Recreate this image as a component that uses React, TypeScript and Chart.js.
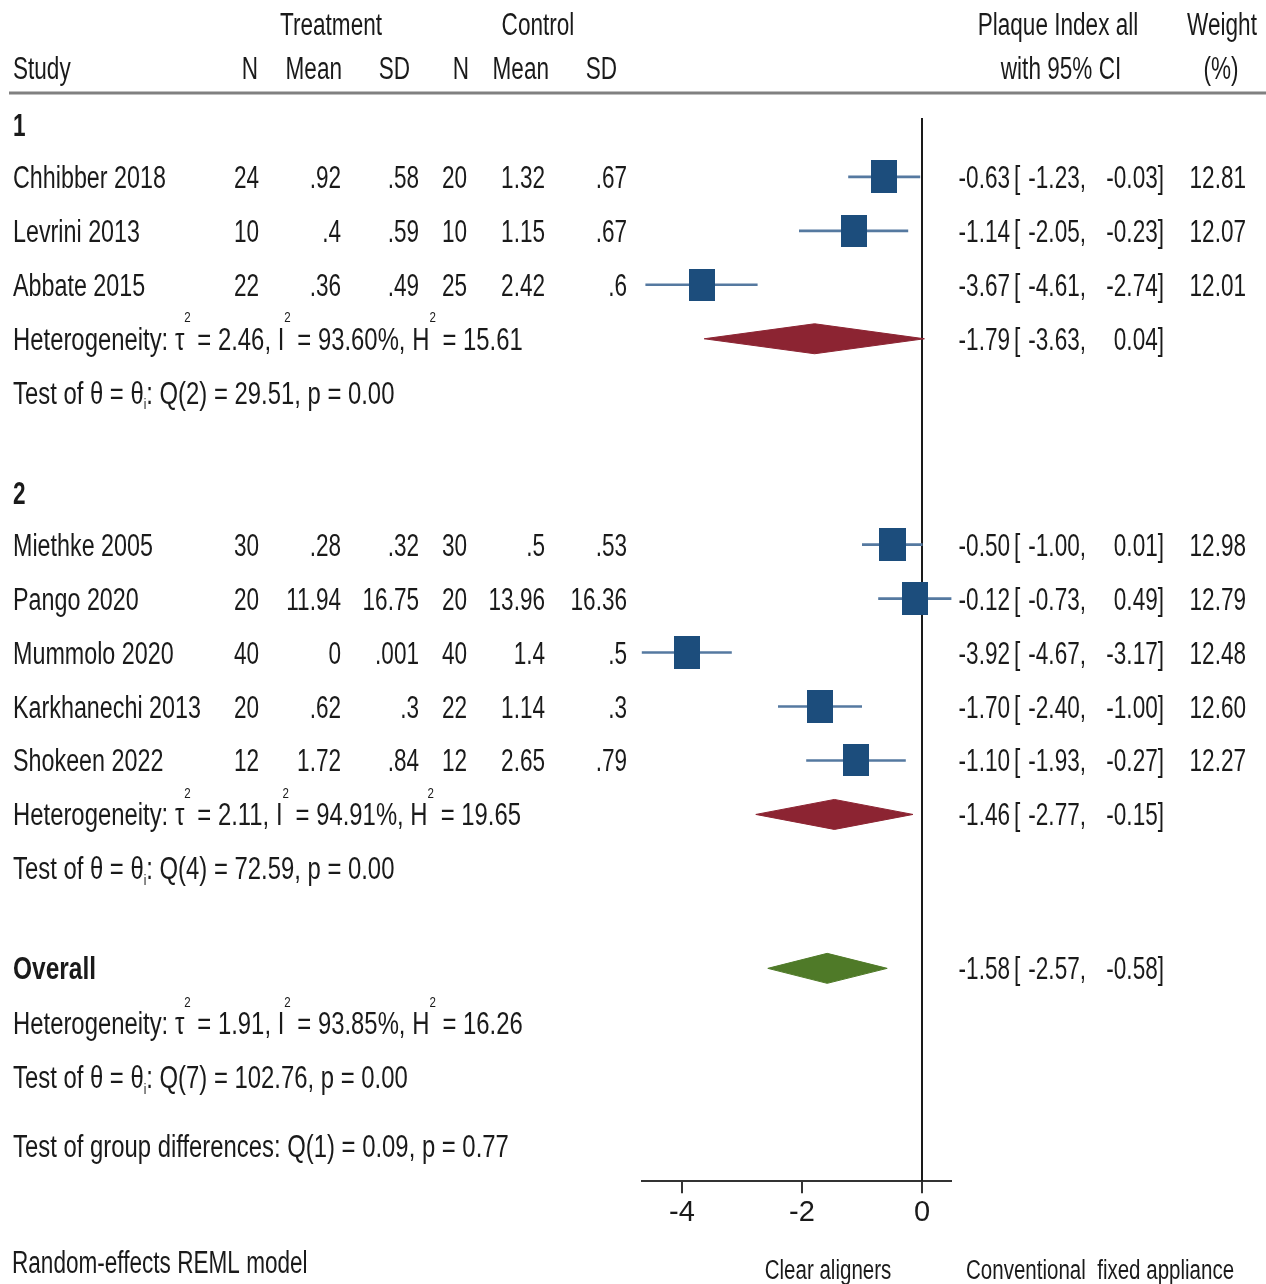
import { useEffect, useRef } from 'react';
import { Chart, registerables } from 'chart.js';

Chart.register(...registerables);

// ---------------- data ----------------
const studies = ['Chhibber 2018', 'Levrini 2013', 'Abbate 2015', 'Miethke 2005', 'Pango 2020', 'Mummolo 2020', 'Karkhanechi 2013', 'Shokeen 2022'];
const studyGroup = [1, 1, 1, 2, 2, 2, 2, 2];
const treatN = [24, 10, 22, 30, 20, 40, 20, 12];
const treatMean = [0.92, 0.4, 0.36, 0.28, 11.94, 0, 0.62, 1.72];
const treatSD = [0.58, 0.59, 0.49, 0.32, 16.75, 0.001, 0.3, 0.84];
const ctrlN = [20, 10, 25, 30, 20, 40, 22, 12];
const ctrlMean = [1.32, 1.15, 2.42, 0.5, 13.96, 1.4, 1.14, 2.65];
const ctrlSD = [0.67, 0.67, 0.6, 0.53, 16.36, 0.5, 0.3, 0.79];
const effect = [-0.63, -1.14, -3.67, -0.5, -0.12, -3.92, -1.7, -1.1];
const ciLow = [-1.23, -2.05, -4.61, -1.0, -0.73, -4.67, -2.4, -1.93];
const ciHigh = [-0.03, -0.23, -2.74, 0.01, 0.49, -3.17, -1.0, -0.27];
const weight = [12.81, 12.07, 12.01, 12.98, 12.79, 12.48, 12.6, 12.27];

const groups = [1, 2];
const groupEffect = [-1.79, -1.46];
const groupLow = [-3.63, -2.77];
const groupHigh = [0.04, -0.15];
const groupTau2 = [2.46, 2.11];
const groupI2 = [93.6, 94.91];
const groupH2 = [15.61, 19.65];
const groupQdf = [2, 4];
const groupQ = [29.51, 72.59];
const groupP = [0.0, 0.0];

const overallStats = [-1.58, -2.57, -0.58]; // effect, low, high
const overallHet = [1.91, 93.85, 16.26]; // tau2, I2, H2
const overallTest = [7, 102.76, 0.0]; // df, Q, p
const diffTest = [1, 0.09, 0.77]; // df, Q, p

const xTicks = [-4, -2, 0];
const nullValue = 0;

// ---------------- layout / style ----------------
const W = 1266;
const H = 1284;
const ZERO_PX = 922;
const PX_PER_UNIT = 60;
const AXIS_Y = 1182;
const ZERO_TOP = 118;
const DIAMOND_HALF = 15;
const FAMILY = '"Liberation Sans", Arial, Helvetica, sans-serif';
const SIZE = 31;
const SX = 0.728;
const SX_NAME = 0.752;
const SX_STAT = 0.77;
const TEXT = '#1a1a1a';
const BLUE = '#1c4d7c';
const CI_COLOR = '#5579a0';
const RED = '#8c2432';
const GREEN = '#4f7a28';

// row positions (layout)
const studyY: number[] = [];
const groupLabelY: number[] = [];
const groupHetY: number[] = [];
const groupTestY: number[] = [];
let yCursor = 125;
groups.forEach((g) => {
  groupLabelY.push(yCursor);
  yCursor += 52;
  studies.forEach((_, i) => {
    if (studyGroup[i] === g) {
      studyY[i] = yCursor;
      yCursor += 54;
    }
  });
  groupHetY.push(yCursor);
  groupTestY.push(yCursor + 54);
  yCursor += 154;
});
const overallY = yCursor;
const overallHetY = yCursor + 55;
const overallTestY = yCursor + 109;
const diffY = yCursor + 178;

const xMin = Math.min(...ciLow, ...groupLow, overallStats[1]);
const xMax = Math.max(...ciHigh, ...groupHigh, overallStats[2]);
const plotLeft = ZERO_PX + xMin * PX_PER_UNIT;
const plotRight = ZERO_PX + xMax * PX_PER_UNIT;

type Run = { t: string; sup?: boolean; sub?: boolean; bold?: boolean };

function drawRuns(
  ctx: CanvasRenderingContext2D,
  runs: Run[],
  x: number,
  baseline: number,
  align: 'left' | 'right' | 'center',
  size = SIZE,
  sx = SX
) {
  const fontFor = (r: Run) =>
    `${r.bold ? 'bold ' : ''}${r.sup || r.sub ? Math.round(size * 0.47) : size}px ${FAMILY}`;
  const widths = runs.map((r) => {
    ctx.font = fontFor(r);
    return ctx.measureText(r.t).width;
  });
  const total = widths.reduce((a, b) => a + b, 0) * sx;
  const start = align === 'left' ? x : align === 'right' ? x - total : x - total / 2;
  ctx.save();
  ctx.translate(start, baseline);
  ctx.scale(sx, 1);
  ctx.textAlign = 'left';
  ctx.textBaseline = 'alphabetic';
  ctx.fillStyle = TEXT;
  let cx = 0;
  runs.forEach((r, i) => {
    ctx.font = fontFor(r);
    const dy = r.sup ? -size * 0.88 : r.sub ? size * 0.17 : 0;
    ctx.fillText(r.t, cx, dy);
    cx += widths[i];
  });
  ctx.restore();
}

const fmtRaw = (v: number) => String(v).replace(/^0\./, '.').replace(/^-0\./, '-.');
const f2 = (v: number) => v.toFixed(2);

const hetRuns = (tau2: number, i2: number, h2: number): Run[] => [
  { t: 'Heterogeneity: τ' },
  { t: '2', sup: true },
  { t: ` = ${f2(tau2)}, I` },
  { t: '2', sup: true },
  { t: ` = ${f2(i2)}%, H` },
  { t: '2', sup: true },
  { t: ` = ${f2(h2)}` },
];
const testRuns = (df: number, q: number, p: number): Run[] => [
  { t: 'Test of θ = θ' },
  { t: 'i', sub: true },
  { t: `: Q(${df}) = ${f2(q)}, p = ${f2(p)}` },
];

function makeBox(w: number) {
  const c = document.createElement('canvas');
  const bw = Math.round(7.4 * Math.sqrt(w));
  const bh = Math.round(9.2 * Math.sqrt(w));
  c.width = bw;
  c.height = bh;
  const g = c.getContext('2d')!;
  g.fillStyle = BLUE;
  g.fillRect(0, 0, bw, bh);
  return c;
}

const diamond = (e: number, lo: number, hi: number, y: number) => [
  { x: lo, y },
  { x: e, y: y - DIAMOND_HALF },
  { x: hi, y },
  { x: e, y: y + DIAMOND_HALF },
  { x: lo, y },
];

const textPlugin = {
  id: 'forestText',
  afterDraw(chart: any) {
    const ctx: CanvasRenderingContext2D = chart.ctx;
    const ys = chart.scales.y;
    const bl = (v: number) => ys.getPixelForValue(v) + 11;

    // header rule
    ctx.save();
    ctx.strokeStyle = '#808080';
    ctx.lineWidth = 3;
    ctx.beginPath();
    ctx.moveTo(9, ys.getPixelForValue(93));
    ctx.lineTo(W, ys.getPixelForValue(93));
    ctx.stroke();
    ctx.restore();

    // headers
    const h1 = 24;
    const h2 = 68;
    drawRuns(ctx, [{ t: 'Treatment' }], 331, bl(h1), 'center');
    drawRuns(ctx, [{ t: 'Control' }], 538, bl(h1), 'center');
    drawRuns(ctx, [{ t: 'Plaque Index all' }], 1058, bl(h1), 'center');
    drawRuns(ctx, [{ t: 'Weight' }], 1222, bl(h1), 'center');
    drawRuns(ctx, [{ t: 'Study' }], 13, bl(h2), 'left');
    drawRuns(ctx, [{ t: 'N' }], 258, bl(h2), 'right');
    drawRuns(ctx, [{ t: 'Mean' }], 342, bl(h2), 'right');
    drawRuns(ctx, [{ t: 'SD' }], 410, bl(h2), 'right');
    drawRuns(ctx, [{ t: 'N' }], 469, bl(h2), 'right');
    drawRuns(ctx, [{ t: 'Mean' }], 549, bl(h2), 'right');
    drawRuns(ctx, [{ t: 'SD' }], 617, bl(h2), 'right');
    drawRuns(ctx, [{ t: 'with 95% CI' }], 1061, bl(h2), 'center');
    drawRuns(ctx, [{ t: '(%)' }], 1221, bl(h2), 'center');

    const esText = (e: number, lo: number, hi: number, y: number) => {
      drawRuns(ctx, [{ t: f2(e) }], 1010, bl(y), 'right');
      drawRuns(ctx, [{ t: '[' }], 1014, bl(y), 'left');
      drawRuns(ctx, [{ t: f2(lo) + ',' }], 1086, bl(y), 'right');
      drawRuns(ctx, [{ t: f2(hi) + ']' }], 1164, bl(y), 'right');
    };

    groups.forEach((g, gi) => {
      drawRuns(ctx, [{ t: String(g), bold: true }], 13, bl(groupLabelY[gi]), 'left');
      studies.forEach((s, i) => {
        if (studyGroup[i] !== g) return;
        const y = studyY[i];
        drawRuns(ctx, [{ t: s }], 13, bl(y), 'left', SIZE, SX_NAME);
        drawRuns(ctx, [{ t: String(treatN[i]) }], 259, bl(y), 'right');
        drawRuns(ctx, [{ t: fmtRaw(treatMean[i]) }], 341, bl(y), 'right');
        drawRuns(ctx, [{ t: fmtRaw(treatSD[i]) }], 419, bl(y), 'right');
        drawRuns(ctx, [{ t: String(ctrlN[i]) }], 467, bl(y), 'right');
        drawRuns(ctx, [{ t: fmtRaw(ctrlMean[i]) }], 545, bl(y), 'right');
        drawRuns(ctx, [{ t: fmtRaw(ctrlSD[i]) }], 627, bl(y), 'right');
        esText(effect[i], ciLow[i], ciHigh[i], y);
        drawRuns(ctx, [{ t: f2(weight[i]) }], 1246, bl(y), 'right');
      });
      drawRuns(ctx, hetRuns(groupTau2[gi], groupI2[gi], groupH2[gi]), 13, bl(groupHetY[gi]), 'left', SIZE, SX_STAT);
      esText(groupEffect[gi], groupLow[gi], groupHigh[gi], groupHetY[gi]);
      drawRuns(ctx, testRuns(groupQdf[gi], groupQ[gi], groupP[gi]), 13, bl(groupTestY[gi]), 'left', SIZE, SX_STAT);
    });

    drawRuns(ctx, [{ t: 'Overall', bold: true }], 13, bl(overallY), 'left', SIZE, 0.79);
    esText(overallStats[0], overallStats[1], overallStats[2], overallY);
    drawRuns(ctx, hetRuns(overallHet[0], overallHet[1], overallHet[2]), 13, bl(overallHetY), 'left', SIZE, SX_STAT);
    drawRuns(ctx, testRuns(overallTest[0], overallTest[1], overallTest[2]), 13, bl(overallTestY), 'left', SIZE, SX_STAT);
    drawRuns(
      ctx,
      [{ t: `Test of group differences: Q(${diffTest[0]}) = ${f2(diffTest[1])}, p = ${f2(diffTest[2])}` }],
      13,
      bl(diffY),
      'left',
      SIZE,
      SX_STAT
    );

    // footer
    drawRuns(ctx, [{ t: 'Random-effects REML model' }], 12, 1273, 'left');
    drawRuns(ctx, [{ t: 'Clear aligners' }], 828, 1279, 'center', 27, 0.76);
    drawRuns(ctx, [{ t: 'Conventional  fixed appliance' }], 966, 1279, 'left', 27, 0.76);
  },
};

export default function App() {
  const ref = useRef<HTMLCanvasElement>(null);
  useEffect(() => {
    document.body.style.margin = '0';
    const canvas = ref.current!;
    const datasets: any[] = [];
    datasets.push({
      type: 'scatter',
      label: 'Studies',
      data: studies.map((_, i) => ({ x: effect[i], y: studyY[i] })),
      pointStyle: weight.map(makeBox),
      pointRadius: 16,
      pointHoverRadius: 16,
      backgroundColor: BLUE,
      borderWidth: 0,
      order: 0,
      clip: false,
    });
    studies.forEach((s, i) => {
      datasets.push({
        type: 'line',
        label: s + ' CI',
        data: [
          { x: ciLow[i], y: studyY[i] },
          { x: ciHigh[i], y: studyY[i] },
        ],
        borderColor: CI_COLOR,
        borderWidth: 2.6,
        pointRadius: 0,
        order: 1,
        clip: false,
      });
    });
    groups.forEach((g, gi) => {
      datasets.push({
        type: 'line',
        label: 'Group ' + g,
        data: diamond(groupEffect[gi], groupLow[gi], groupHigh[gi], groupHetY[gi]),
        borderColor: RED,
        backgroundColor: RED,
        borderWidth: 1,
        fill: 'shape',
        tension: 0,
        pointRadius: 0,
        order: 1,
        clip: false,
      });
    });
    datasets.push({
      type: 'line',
      label: 'Overall',
      data: diamond(overallStats[0], overallStats[1], overallStats[2], overallY),
      borderColor: GREEN,
      backgroundColor: GREEN,
      borderWidth: 1,
      fill: 'shape',
      tension: 0,
      pointRadius: 0,
      order: 1,
      clip: false,
    });
    datasets.push({
      type: 'line',
      label: 'No effect',
      data: [
        { x: nullValue, y: ZERO_TOP },
        { x: nullValue, y: AXIS_Y },
      ],
      borderColor: '#1a1a1a',
      borderWidth: 2,
      pointRadius: 0,
      order: 2,
      clip: false,
    });

    const chart = new Chart(canvas, {
      type: 'scatter',
      data: { datasets },
      options: {
        responsive: false,
        animation: false,
        events: [],
        layout: {
          autoPadding: false,
          padding: { left: plotLeft, right: W - plotRight, top: 0, bottom: 52 },
        },
        plugins: {
          legend: { display: false },
          tooltip: { enabled: false },
          title: { display: false },
        },
        scales: {
          x: {
            type: 'linear',
            min: xMin,
            max: xMax,
            afterBuildTicks: (axis: any) => {
              axis.ticks = xTicks.map((v) => ({ value: v }));
            },
            grid: {
              display: true,
              drawOnChartArea: false,
              drawTicks: true,
              tickLength: 12,
              color: '#333333',
              lineWidth: 2,
            },
            border: { display: true, color: '#333333', width: 2 },
            ticks: {
              color: TEXT,
              padding: 2,
              font: { family: '"Liberation Sans Narrow", "Arial Narrow", "Liberation Sans", Arial, sans-serif', size: 29 },
            },
          },
          y: {
            type: 'linear',
            min: 0,
            max: AXIS_Y,
            reverse: true,
            display: false,
          },
        },
      } as any,
      plugins: [textPlugin],
    });
    return () => chart.destroy();
  }, []);

  return (
    <div style={{ position: 'absolute', left: 0, top: 0, width: W, height: H, background: '#ffffff' }}>
      <canvas ref={ref} width={W} height={H} style={{ width: W, height: H, display: 'block' }} />
    </div>
  );
}
